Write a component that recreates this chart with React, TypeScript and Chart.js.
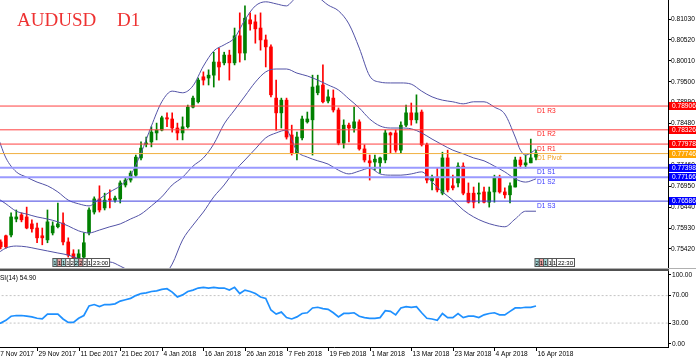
import React, { useEffect, useRef } from "react";
import { Chart, registerables } from "chart.js";

Chart.register(...registerables);

// ---------------- data ----------------
const TITLE_SYMBOL = "AUDUSD";
const TITLE_TF = "D1";
const RSI_LABEL = "RSI(14) 54.90";

const FIRST_BAR = 1; // bar index of the first candle (index 0 = 17 Nov 2017)
const opens = [
  0.7559, 0.7574, 0.7576, 0.7615, 0.7625, 0.762, 0.7603, 0.7593, 0.7574, 0.7564,
  0.7581, 0.7596, 0.7605, 0.7559, 0.753, 0.752, 0.7522, 0.7581, 0.7632, 0.7664,
  0.7642, 0.7664, 0.7661, 0.7664, 0.7698, 0.771, 0.7722, 0.7764, 0.7798, 0.7803,
  0.7825, 0.7832, 0.7862, 0.7859, 0.7837, 0.7825, 0.784, 0.7888, 0.7901, 0.7962,
  0.7959, 0.7966, 0.7998, 0.7996, 0.8015, 0.7996, 0.8062, 0.802, 0.8101, 0.8096,
  0.8081, 0.8052, 0.8035, 0.791, 0.7874, 0.7905, 0.782, 0.7776, 0.7813, 0.7852,
  0.7857, 0.7923, 0.7942, 0.7903, 0.791, 0.7881, 0.78, 0.7844, 0.7837, 0.7852,
  0.7786, 0.7757, 0.7754, 0.7752, 0.7759, 0.7825, 0.7825, 0.7783, 0.7844, 0.7874,
  0.7857, 0.7876, 0.7796, 0.7708, 0.7717, 0.7678, 0.7764, 0.7696, 0.7703, 0.7744,
  0.7678, 0.7678, 0.7676, 0.7681, 0.7656, 0.7681, 0.7717, 0.7681, 0.7674, 0.7693,
  0.7759, 0.7747, 0.7752, 0.7766,
];
const highs = [
  0.7564, 0.7576, 0.763, 0.7637, 0.763, 0.7644, 0.7613, 0.7605, 0.7593, 0.7637,
  0.7608, 0.7654, 0.763, 0.7569, 0.754, 0.754, 0.7581, 0.7642, 0.7669, 0.7696,
  0.7678, 0.7686, 0.7671, 0.7708, 0.7715, 0.7732, 0.7771, 0.7803, 0.7815, 0.784,
  0.7849, 0.7866, 0.7874, 0.7874, 0.7849, 0.7864, 0.7893, 0.7915, 0.7959, 0.7974,
  0.7979, 0.8022, 0.8032, 0.8022, 0.8027, 0.8081, 0.8118, 0.8135, 0.8118, 0.8113,
  0.8118, 0.8064, 0.804, 0.7954, 0.791, 0.791, 0.7844, 0.7827, 0.7866, 0.7876,
  0.7966, 0.7966, 0.7991, 0.793, 0.793, 0.7886, 0.7857, 0.7849, 0.7888, 0.7857,
  0.7796, 0.7771, 0.7771, 0.7766, 0.7832, 0.7827, 0.7832, 0.7852, 0.7893, 0.7898,
  0.7918, 0.7881, 0.78, 0.7722, 0.7739, 0.7778, 0.7783, 0.7722, 0.7752, 0.7752,
  0.7703, 0.7693, 0.7703, 0.7693, 0.7693, 0.7722, 0.7722, 0.7691, 0.7703, 0.7766,
  0.7766, 0.7771, 0.781, 0.7783,
];
const lows = [
  0.7542, 0.7544, 0.7571, 0.7608, 0.7608, 0.7591, 0.7583, 0.7557, 0.7552, 0.7557,
  0.7576, 0.7593, 0.7552, 0.7522, 0.751, 0.7515, 0.752, 0.7576, 0.7627, 0.7632,
  0.7637, 0.7642, 0.7656, 0.7654, 0.7693, 0.7705, 0.7717, 0.7759, 0.7791, 0.7791,
  0.7808, 0.783, 0.784, 0.7827, 0.7808, 0.7808, 0.7837, 0.7886, 0.7898, 0.7942,
  0.7942, 0.7937, 0.7954, 0.7991, 0.7954, 0.7991, 0.7998, 0.8003, 0.8076, 0.8044,
  0.8027, 0.7986, 0.7913, 0.7832, 0.7837, 0.781, 0.7771, 0.7759, 0.7808, 0.7849,
  0.7771, 0.7918, 0.7898, 0.7898, 0.7876, 0.7796, 0.7788, 0.7803, 0.7827, 0.7783,
  0.7754, 0.771, 0.7734, 0.7727, 0.7752, 0.7776, 0.7778, 0.7776, 0.784, 0.7844,
  0.7849, 0.7793, 0.7703, 0.7686, 0.7681, 0.7674, 0.7681, 0.7686, 0.7693, 0.7674,
  0.7654, 0.7642, 0.7654, 0.7654, 0.7644, 0.7656, 0.7678, 0.7666, 0.7654, 0.7693,
  0.7739, 0.7739, 0.7752, 0.7759,
];
const closes = [
  0.7547, 0.7547, 0.762, 0.762, 0.7613, 0.7593, 0.7591, 0.7569, 0.7569, 0.7608,
  0.7598, 0.7603, 0.7559, 0.7527, 0.752, 0.753, 0.7557, 0.7637, 0.7664, 0.7637,
  0.7661, 0.7661, 0.7666, 0.7703, 0.771, 0.7727, 0.7766, 0.7788, 0.78, 0.7827,
  0.7832, 0.7862, 0.7859, 0.7837, 0.7825, 0.784, 0.7888, 0.791, 0.7954, 0.7954,
  0.7966, 0.7998, 0.7986, 0.8015, 0.7996, 0.8062, 0.802, 0.8105, 0.8091, 0.8079,
  0.8052, 0.8035, 0.7918, 0.7874, 0.7905, 0.7815, 0.7776, 0.7815, 0.7859, 0.7859,
  0.7937, 0.794, 0.7901, 0.7913, 0.7881, 0.78, 0.7844, 0.7837, 0.7852, 0.7786,
  0.7759, 0.7752, 0.7761, 0.7764, 0.7825, 0.782, 0.7783, 0.7844, 0.7874, 0.7857,
  0.7874, 0.7796, 0.771, 0.7717, 0.7686, 0.7764, 0.7686, 0.7691, 0.7744, 0.7678,
  0.7656, 0.7656, 0.7678, 0.7656, 0.7681, 0.7715, 0.7681, 0.7674, 0.7696, 0.7759,
  0.7747, 0.7752, 0.7764, 0.7776,
];

// Bollinger bands, read at sampled bars
const upperIdx = [0, 1, 2, 4, 6, 8, 10, 12, 14, 16, 18, 20, 22, 24, 26, 28, 30, 32, 34, 36, 38, 40, 42, 44, 46, 48, 50, 52, 54, 56, 57, 58, 60, 62, 64, 66, 68, 70, 72, 74, 76, 78, 80, 82, 84, 86, 88, 90, 92, 94, 96, 98, 100, 101, 102, 103, 104];
const upperVals = [0.7832, 0.7796, 0.7764, 0.773, 0.7717, 0.7705, 0.7696, 0.7681, 0.7661, 0.7652, 0.7647, 0.7664, 0.7681, 0.7696, 0.7722, 0.7776, 0.7842, 0.7901, 0.7927, 0.7923, 0.794, 0.7988, 0.8025, 0.804, 0.8057, 0.8101, 0.8135, 0.8145, 0.814, 0.8135, 0.8145, 0.8159, 0.8169, 0.8157, 0.8137, 0.8123, 0.8091, 0.8032, 0.7964, 0.7949, 0.7947, 0.7947, 0.7944, 0.7927, 0.7913, 0.7905, 0.7901, 0.7896, 0.7901, 0.7901, 0.7888, 0.7871, 0.7815, 0.7783, 0.7771, 0.7776, 0.7786];
const middleIdx = [0, 2, 4, 6, 8, 10, 12, 14, 16, 18, 20, 22, 24, 26, 28, 30, 32, 34, 36, 38, 40, 42, 44, 46, 48, 50, 52, 54, 56, 58, 60, 62, 64, 66, 68, 70, 72, 74, 76, 78, 80, 82, 84, 86, 88, 90, 92, 94, 96, 98, 100, 102, 104];
const middleVals = [0.7669, 0.7652, 0.7634, 0.7627, 0.762, 0.7615, 0.7608, 0.7598, 0.7586, 0.7581, 0.7588, 0.7596, 0.7603, 0.7615, 0.7627, 0.7647, 0.7669, 0.7698, 0.7717, 0.7744, 0.7764, 0.7798, 0.7847, 0.7881, 0.7915, 0.7949, 0.7974, 0.7981, 0.7981, 0.7971, 0.7964, 0.7954, 0.7942, 0.793, 0.7908, 0.7886, 0.7859, 0.7842, 0.7837, 0.7837, 0.7835, 0.7825, 0.781, 0.7796, 0.7783, 0.7774, 0.7764, 0.7757, 0.7744, 0.773, 0.7713, 0.7705, 0.7713];
const lowerIdx = [0, 2, 4, 6, 8, 10, 12, 14, 16, 18, 20, 22, 24, 26, 28, 30, 32, 34, 36, 38, 40, 42, 44, 46, 48, 50, 52, 54, 56, 57, 58, 60, 62, 64, 66, 68, 70, 72, 74, 76, 78, 80, 82, 84, 86, 88, 90, 92, 94, 96, 98, 100, 102, 104];
const lowerVals = [0.7527, 0.7544, 0.7549, 0.7547, 0.7542, 0.7537, 0.7532, 0.7527, 0.7518, 0.751, 0.751, 0.751, 0.75, 0.7486, 0.7466, 0.7461, 0.7471, 0.7505, 0.7564, 0.76, 0.7632, 0.7669, 0.7698, 0.7732, 0.7759, 0.7786, 0.7813, 0.7825, 0.7832, 0.7808, 0.7781, 0.7766, 0.7757, 0.7749, 0.7734, 0.7725, 0.7732, 0.7739, 0.7725, 0.7722, 0.7722, 0.7725, 0.773, 0.7705, 0.7681, 0.7661, 0.7637, 0.762, 0.7608, 0.76, 0.7596, 0.7615, 0.7634, 0.7634];

// RSI(14), one value per bar starting at bar 0
const RSI_FIRST_BAR = 0;
const rsiValues = [
  29, 30, 34, 40, 41, 41, 40, 39, 37, 36, 43, 43, 43, 36, 31, 31, 37, 41, 55, 57,
  54, 57, 57, 58, 62, 64, 66, 70, 73, 74, 76, 77, 79, 80, 75, 68, 71, 76, 78, 81,
  82, 81, 82, 81, 81, 78, 82, 73, 78, 76, 73, 68, 66, 49, 43, 46, 38, 36, 39, 44,
  45, 52, 53, 51, 50, 45, 39, 44, 44, 45, 40, 38, 37, 37, 38, 48, 47, 42, 52, 54,
  53, 54, 45, 37, 36, 34, 44, 38, 38, 44, 38, 40, 40, 38, 42, 44, 45, 42, 42, 47,
  52, 52, 53, 53, 54.9,
];
const rsiLevels = [70, 30];
const rsiTicks = [0, 30, 70, 100];

const priceTicks = [0.7542, 0.7593, 0.7644, 0.7695, 0.7746, 0.7797, 0.7848, 0.7899, 0.795, 0.8001, 0.8052, 0.8103, 0.8154];

const dateTickBars = [0, 8, 16, 24, 32, 40, 48, 56, 64, 72, 80, 88, 96, 104];
const dateTickLabels = [
  "17 Nov 2017", "29 Nov 2017", "11 Dec 2017", "21 Dec 2017", "4 Jan 2018", "16 Jan 2018",
  "26 Jan 2018", "7 Feb 2018", "19 Feb 2018", "1 Mar 2018", "13 Mar 2018", "23 Mar 2018",
  "4 Apr 2018", "16 Apr 2018",
];

const pivotNames = ["D1 R3", "D1 R2", "D1 R1", "D1 Pivot", "D1 S1", "D1 S2", "D1 S3"];
const pivotValues = [0.78906, 0.78326, 0.77978, 0.77746, 0.77398, 0.77166, 0.76586];
const PIVOT_LABEL_BAR = 104;

const leftTimeMarks = ["1", "1", "1", "1", "2", "2", "2", "2", "1"];
const LEFT_TIME_LABEL = "23:00";
const LEFT_TIME_BAR = 12;
const rightTimeMarks = ["2", "1", "1", "1", "1"];
const RIGHT_TIME_LABEL = "22:30";
const RIGHT_TIME_BAR = 104;

// ---------------- layout & style ----------------
const W = 696;
const MAIN_H = 268;
const RSI_H = 91;
const AXIS_W = 28;
const X_MIN = 0.866;
const X_MAX = 129.4;
const Y_MAX = 0.81494;
const Y_MIN = 0.74954;
const RSI_MIN = -4.8;
const RSI_MAX = 105.8;
const FONT = "'Liberation Sans', Arial, sans-serif";
const SMALL = 6.6;
const GREEN = "#008000";
const RED = "#ff0000";
const BAND = "#5252a6";
const pivotTextColors = ["#ff2020", "#ff2020", "#ff2020", "#f0a020", "#3838ff", "#3838ff", "#3838ff"];
const pivotBoxColors = ["#ff0000", "#ff0000", "#ff0000", "#ffa500", "#0000ff", "#0000ff", "#0000ff"];
const pivotLineColors = ["#ff4040", "#ff4040", "#ff4040", "#f0b040", "#9a9aff", "#9a9aff", "#4040e0"];
const pivotLineWidths = [1, 1, 1, 1, 2, 2, 1];
const markFills = ["#a6d8d8", "#e8a0a0", "#a6d8d8", "#ffffff", "#ffffff", "#a6d8d8", "#e8a0a0", "#ffffff", "#ffffff"];

const pts = (idx: number[], vals: number[]) => idx.map((x, k) => ({ x, y: vals[k] }));

function drawMarks(ctx: CanvasRenderingContext2D, x0: number, marks: string[], label: string) {
  const bw = 4.3;
  const y0 = 258.5;
  const h = 8;
  ctx.font = `6px ${FONT}`;
  ctx.textBaseline = "middle";
  ctx.textAlign = "center";
  ctx.lineWidth = 1;
  marks.forEach((m, k) => {
    const bx = x0 + k * bw;
    ctx.fillStyle = markFills[k % markFills.length];
    ctx.fillRect(bx, y0, bw, h);
    ctx.strokeStyle = "#555";
    ctx.strokeRect(bx, y0, bw, h);
    ctx.fillStyle = "#000";
    ctx.fillText(m, bx + bw / 2, y0 + h / 2 + 0.5);
  });
  const lx = x0 + marks.length * bw;
  ctx.fillStyle = "#ffffff";
  ctx.fillRect(lx, y0, 18, h);
  ctx.strokeStyle = "#555";
  ctx.strokeRect(lx, y0, 18, h);
  ctx.fillStyle = "#000";
  ctx.fillText(label, lx + 9, y0 + h / 2 + 0.5);
  ctx.textAlign = "left";
}

const mainOverlay = {
  id: "mainOverlay",
  afterDraw(chart: any) {
    const { ctx, scales } = chart;
    const xs = scales.x;
    const ys = scales.y;
    ctx.save();
    // title
    ctx.fillStyle = "#ee3232";
    ctx.font = "19px 'Liberation Serif', 'DejaVu Serif', serif";
    ctx.textBaseline = "alphabetic";
    ctx.textAlign = "left";
    ctx.fillText(TITLE_SYMBOL, 17, 25.5);
    ctx.fillText(TITLE_TF, 117, 25.5);

    // pivot names & axis boxes
    const lx = xs.getPixelForValue(PIVOT_LABEL_BAR) + 1;
    pivotValues.forEach((v, k) => {
      const py = ys.getPixelForValue(v);
      ctx.font = `${SMALL}px ${FONT}`;
      ctx.textBaseline = "top";
      ctx.fillStyle = pivotTextColors[k];
      ctx.fillText(pivotNames[k], lx, py + 1.5);
      ctx.fillStyle = pivotBoxColors[k];
      ctx.fillRect(669, Math.round(py) - 4, 27, 8);
      ctx.fillStyle = "#ffffff";
      ctx.textBaseline = "middle";
      ctx.fillText(v.toFixed(5), 672, Math.round(py) + 0.5);
    });

    drawMarks(ctx, xs.getPixelForValue(LEFT_TIME_BAR) - 5, leftTimeMarks, LEFT_TIME_LABEL);
    drawMarks(ctx, xs.getPixelForValue(RIGHT_TIME_BAR) - 1, rightTimeMarks, RIGHT_TIME_LABEL);
    ctx.restore();
  },
};

const rsiOverlay = {
  id: "rsiOverlay",
  afterDraw(chart: any) {
    const { ctx, scales, chartArea } = chart;
    const xs = scales.x;
    ctx.save();
    // separator
    ctx.fillStyle = "#b0b0b0";
    ctx.fillRect(0, 0, 696, 1);
    ctx.fillStyle = "#505050";
    ctx.fillRect(0, 1, 669, 2);
    // label
    ctx.fillStyle = "#000";
    ctx.font = `${SMALL}px ${FONT}`;
    ctx.textBaseline = "middle";
    ctx.textAlign = "left";
    ctx.fillText(RSI_LABEL, -4.8, 10);
    // bottom axis
    const b = chartArea.bottom;
    ctx.strokeStyle = "#000";
    ctx.lineWidth = 1;
    ctx.beginPath();
    ctx.moveTo(0, b + 0.5);
    ctx.lineTo(chartArea.right + 1, b + 0.5);
    dateTickBars.forEach((bar) => {
      const px = Math.round(xs.getPixelForValue(bar)) + 0.5;
      ctx.moveTo(px, b);
      ctx.lineTo(px, b + 4);
    });
    ctx.stroke();
    dateTickBars.forEach((bar, k) => {
      const px = Math.round(xs.getPixelForValue(bar));
      ctx.fillText(dateTickLabels[k], px + 1.5, b + 7.5);
    });
    ctx.restore();
  },
};

function mainConfig(): any {
  const colors = opens.map((o, k) => (closes[k] >= o ? GREEN : RED));
  const bodies = opens.map((o, k) => ({ x: FIRST_BAR + k, y: [o, closes[k]] }));
  const wicks = opens.map((o, k) => ({ x: FIRST_BAR + k, y: [lows[k], highs[k]] }));
  const bandStyle = {
    type: "line",
    borderColor: BAND,
    borderWidth: 1,
    pointRadius: 0,
    cubicInterpolationMode: "monotone",
    order: 1,
  };
  const pivotSets = pivotValues.map((v, k) => ({
    type: "line",
    data: [
      { x: X_MIN - 2, y: v },
      { x: X_MAX + 2, y: v },
    ],
    borderColor: pivotLineColors[k],
    borderWidth: pivotLineWidths[k],
    pointRadius: 0,
    order: 0,
  }));
  return {
    type: "line",
    data: {
      datasets: [
        { type: "bar", data: bodies, backgroundColor: colors, barThickness: 3, grouped: false, minBarLength: 1, order: 2 },
        { type: "bar", data: wicks, backgroundColor: colors, barThickness: 1, grouped: false, order: 3 },
        { ...bandStyle, data: pts(upperIdx, upperVals) },
        { ...bandStyle, data: pts(middleIdx, middleVals) },
        { ...bandStyle, data: pts(lowerIdx, lowerVals) },
        ...pivotSets,
      ],
    },
    options: {
      responsive: false,
      animation: false,
      devicePixelRatio: 1,
      events: [],
      layout: { padding: 0 },
      plugins: { legend: { display: false }, tooltip: { enabled: false } },
      scales: {
        x: { type: "linear", min: X_MIN, max: X_MAX, display: false, offset: false },
        y: {
          type: "linear",
          position: "right",
          min: Y_MIN,
          max: Y_MAX,
          afterBuildTicks: (s: any) => {
            s.ticks = priceTicks.map((v) => ({ value: v }));
          },
          afterFit: (s: any) => {
            s.width = AXIS_W;
            s.paddingTop = 0;
            s.paddingBottom = 0;
          },
          ticks: {
            autoSkip: false,
            padding: 0,
            color: "#000",
            font: { family: FONT, size: SMALL },
            callback: (v: any) => Number(v).toFixed(5),
          },
          grid: { drawOnChartArea: false, drawTicks: true, tickLength: 3, tickColor: "#000", color: "#000" },
          border: { display: true, color: "#000", width: 1 },
        },
      },
    },
    plugins: [mainOverlay],
  };
}

function rsiConfig(): any {
  const levelSets = rsiLevels.map((lv) => ({
    type: "line",
    data: [
      { x: X_MIN - 2, y: lv },
      { x: X_MAX + 2, y: lv },
    ],
    borderColor: "#c4c4c4",
    borderWidth: 1,
    borderDash: [2, 2],
    pointRadius: 0,
    order: 1,
  }));
  return {
    type: "line",
    data: {
      datasets: [
        {
          type: "line",
          data: rsiValues.map((v, k) => ({ x: RSI_FIRST_BAR + k, y: v })),
          borderColor: "#1e90ff",
          borderWidth: 1.7,
          pointRadius: 0,
          order: 0,
        },
        ...levelSets,
      ],
    },
    options: {
      responsive: false,
      animation: false,
      devicePixelRatio: 1,
      events: [],
      layout: { padding: { top: 3, bottom: 12, left: 0, right: 0 } },
      plugins: { legend: { display: false }, tooltip: { enabled: false } },
      scales: {
        x: { type: "linear", min: X_MIN, max: X_MAX, display: false, offset: false },
        y: {
          type: "linear",
          position: "right",
          min: RSI_MIN,
          max: RSI_MAX,
          afterBuildTicks: (s: any) => {
            s.ticks = rsiTicks.map((v) => ({ value: v }));
          },
          afterFit: (s: any) => {
            s.width = AXIS_W;
            s.paddingTop = 0;
            s.paddingBottom = 0;
          },
          ticks: {
            autoSkip: false,
            padding: 1,
            color: "#000",
            font: { family: FONT, size: SMALL },
            callback: (v: any) => Number(v).toFixed(2),
          },
          grid: { drawOnChartArea: false, drawTicks: true, tickLength: 3, tickColor: "#000", color: "#000" },
          border: { display: true, color: "#000", width: 1 },
        },
      },
    },
    plugins: [rsiOverlay],
  };
}

export default function App() {
  const mainRef = useRef<HTMLCanvasElement>(null);
  const rsiRef = useRef<HTMLCanvasElement>(null);
  useEffect(() => {
    const main = new Chart(mainRef.current as HTMLCanvasElement, mainConfig());
    const rsi = new Chart(rsiRef.current as HTMLCanvasElement, rsiConfig());
    return () => {
      main.destroy();
      rsi.destroy();
    };
  }, []);
  return (
    <div style={{ position: "fixed", left: 0, top: 0, width: W, height: MAIN_H + RSI_H, background: "#fff", overflow: "hidden" }}>
      <canvas ref={mainRef} width={W} height={MAIN_H} style={{ position: "absolute", left: 0, top: 0, width: W, height: MAIN_H, display: "block" }} />
      <canvas ref={rsiRef} width={W} height={RSI_H} style={{ position: "absolute", left: 0, top: MAIN_H, width: W, height: RSI_H, display: "block" }} />
    </div>
  );
}
